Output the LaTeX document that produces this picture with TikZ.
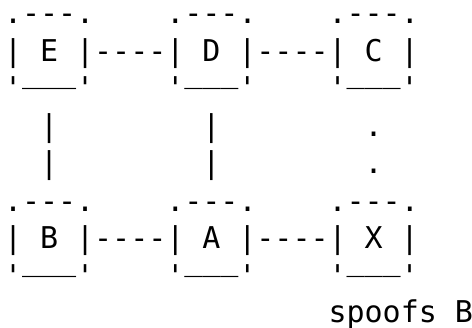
\documentclass[tikz,border=0pt]{standalone}
\usepackage{fontspec}
\setmonofont{DejaVu Sans Mono}
\tikzset{
  glyphs/.style={font=\ttfamily\fontsize{30bp}{30bp}\selectfont, text=black,
                 inner sep=0pt, outer sep=0pt, anchor=base west},
  floor/.style={glyphs, yshift=16bp},
}
\begin{document}
\begin{tikzpicture}[x=18.03bp, y=-37.5bp]
  \fill[white] (0bp,0bp) rectangle (472bp,-328bp);
  \useasboundingbox (0bp,0bp) rectangle (472bp,-328bp);
  \begin{scope}[shift={(4bp,-23.5bp)}]
    % boxes: column, row, label
    \foreach \c/\r/\lab in {0/0/E, 9/0/D, 18/0/C, 0/5/B, 9/5/A, 18/5/X}{
      \node[glyphs] (top-\lab) at (\c,\r) {.---.};
      \node[glyphs] (left-\lab) at (\c,\r+1) {|};
      \node[glyphs] (\lab) at (\c+2,\r+1) {\lab};
      \node[glyphs] (right-\lab) at (\c+4,\r+1) {|};
      \node[glyphs] (corner-l-\lab) at (\c,\r+2) {'};
      \node[floor]  (bot-\lab) at (\c+1,\r+2) {\_\_\_};
      \node[glyphs] (corner-r-\lab) at (\c+4,\r+2) {'};
    }
    % horizontal links
    \foreach \c/\r/\nm in {5/1/ED, 14/1/DC, 5/6/BA, 14/6/AX}{
      \node[glyphs] (link-\nm) at (\c,\r) {----};
    }
    % vertical links
    \foreach \r in {3,4}{
      \node[glyphs] (link-EB-\r) at (2,\r) {|};
      \node[glyphs] (link-DA-\r) at (11,\r) {|};
      \node[glyphs] (link-CX-\r) at (20,\r) {.};
    }
    \node[glyphs, yshift=1bp] (note) at (18,8) {spoofs};
    \node[glyphs, yshift=1bp] (note-B) at (25,8) {B};
  \end{scope}
\end{tikzpicture}
\end{document}
